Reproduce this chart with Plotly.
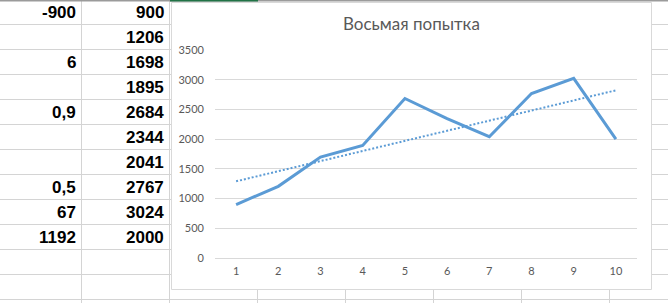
import numpy as np
import plotly.graph_objects as go

# ---- data ----
x_values = [1, 2, 3, 4, 5, 6, 7, 8, 9, 10]
y_values = [900, 1206, 1698, 1895, 2684, 2344, 2041, 2767, 3024, 2000]
col_a = ["-900", "", "6", "", "0,9", "", "", "0,5", "67", "1192"]
col_b = ["900", "1206", "1698", "1895", "2684", "2344", "2041", "2767", "3024", "2000"]
y_ticks = [0, 500, 1000, 1500, 2000, 2500, 3000, 3500]
title_text = "Восьмая попытка"

# ---- geometry (pixels) ----
W, H = 668, 303
L, R, T, B = 215, 31, 50, 45
PW, PH = W - L - R, H - T - B


def px(x):
    return (x - L) / PW


def py(y):
    return (H - B - y) / PH


blue = "#5B9BD5"
grey_txt = "#595959"
grid = "#D9D9D9"
cell_line = "#D4D4D4"

# linear trendline from data
coef = np.polyfit(x_values, y_values, 1)
trend = np.polyval(coef, x_values)

fig = go.Figure()
fig.add_trace(go.Scatter(x=x_values, y=y_values, mode="lines",
                         line=dict(color=blue, width=3), hoverinfo="skip"))
fig.add_trace(go.Scatter(x=x_values, y=trend, mode="lines",
                         line=dict(color=blue, width=2, dash="2px,2px"), hoverinfo="skip"))

shapes = []


def line(x0, y0, x1, y1, color=cell_line, width=1):
    shapes.append(dict(type="line", xref="paper", yref="paper",
                       x0=px(x0), y0=py(y0), x1=px(x1), y1=py(y1),
                       line=dict(color=color, width=width), layer="below"))


# spreadsheet horizontal lines
for k in range(1, 13):
    yy = 25 * k - 0.5
    line(0, yy, 171, yy)
    line(651, yy, W, yy)
    if yy > 289:
        line(171, yy, 651, yy)
# vertical lines
line(81.5, 0, 81.5, H)
line(169.5, 0, 169.5, H)
for xv in [257.5, 345.5, 433.5, 521.5, 609.5]:
    line(xv, 289, xv, H)
# top header border
line(0, 0.5, W, 0.5, color="#9B9B9B", width=2)
line(170, 0.5, 258, 0.5, color="#217346", width=2)

# chart area
shapes.append(dict(type="rect", xref="paper", yref="paper",
                   x0=px(171.5), y0=py(289.5), x1=px(651.5), y1=py(2.5),
                   fillcolor="white", line=dict(color=grid, width=1), layer="below"))

annotations = []
for k, (a, b) in enumerate(zip(col_a, col_b)):
    yc = 12.5 + 25 * k
    if a:
        annotations.append(dict(xref="paper", yref="paper", x=px(78), y=py(yc),
                                xanchor="right", yanchor="middle", text=a, showarrow=False,
                                font=dict(family="Liberation Sans, Arial", size=17,
                                          color="black", weight="bold")))
    if b:
        annotations.append(dict(xref="paper", yref="paper", x=px(166), y=py(yc),
                                xanchor="right", yanchor="middle", text=b, showarrow=False,
                                font=dict(family="Liberation Sans, Arial", size=17,
                                          color="black", weight="bold")))

annotations.append(dict(xref="paper", yref="paper", x=px(411), y=py(23),
                        xanchor="center", yanchor="middle", text=title_text, showarrow=False,
                        font=dict(family="Lato, Open Sans", size=17, color=grey_txt)))

fig.update_layout(
    width=W, height=H,
    margin=dict(l=L, r=R, t=T, b=B, pad=0),
    paper_bgcolor="white", plot_bgcolor="rgba(0,0,0,0)",
    showlegend=False,
    shapes=shapes, annotations=annotations,
    xaxis=dict(range=[0.5, 10.5], tickvals=x_values, ticktext=[str(v) for v in x_values],
               showgrid=False, zeroline=False, showline=False, ticks="",
               tickfont=dict(family="Lato, Open Sans", size=11, color=grey_txt),
               ticklabelstandoff=5, fixedrange=True),
    yaxis=dict(range=[0, 3500], tickvals=y_ticks, showgrid=True, gridcolor=grid, gridwidth=1,
               zeroline=True, zerolinecolor=grid, zerolinewidth=1, showline=False, ticks="",
               tickfont=dict(family="Lato, Open Sans", size=11, color=grey_txt),
               ticklabelstandoff=10, fixedrange=True),
)

fig.write_html("out.html")
